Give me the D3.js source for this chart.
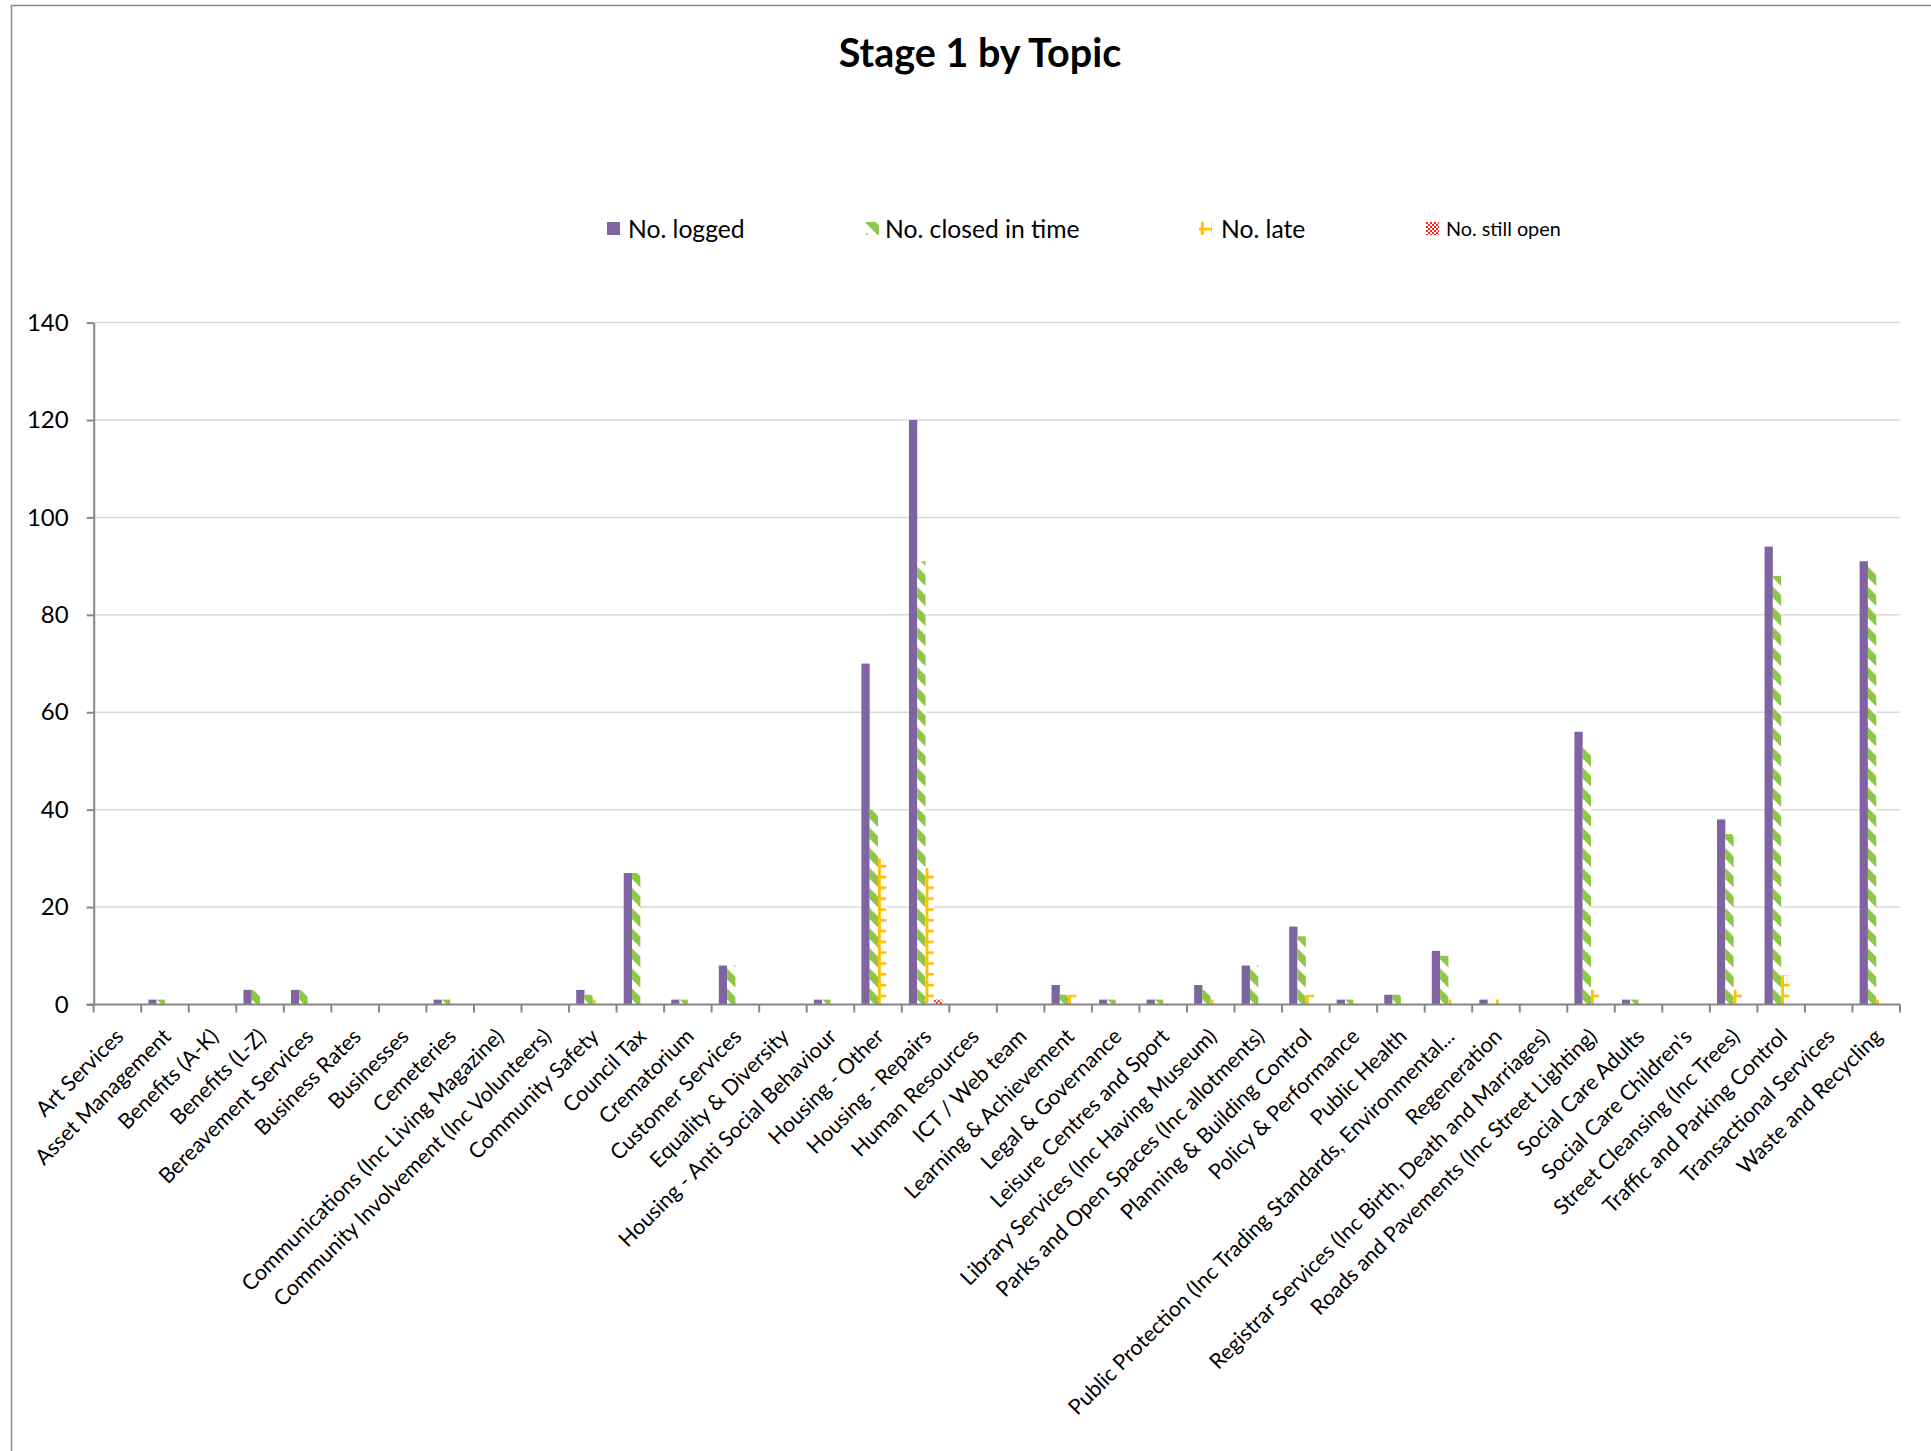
<!DOCTYPE html>
<html>
<head>
<meta charset="utf-8">
<script src="https://cdn.jsdelivr.net/npm/d3@7"></script>
<style>
  html, body { margin: 0; padding: 0; background: #ffffff; }
  svg { display: block; }
  text { font-family: Lato, "Open Sans", sans-serif; fill: #000; }
</style>
</head>
<body>
<svg id="chart" width="1931" height="1451"></svg>
<script>
// Complaint topics (Stage 1) and counts per status
const categories = [
  "Art Services", "Asset Management", "Benefits (A-K)", "Benefits (L-Z)",
  "Bereavement Services", "Business Rates", "Businesses", "Cemeteries",
  "Communications (Inc Living Magazine)", "Community Involvement (Inc Volunteers)",
  "Community Safety", "Council Tax", "Crematorium", "Customer Services",
  "Equality & Diversity", "Housing - Anti Social Behaviour", "Housing - Other",
  "Housing - Repairs", "Human Resources", "ICT / Web team", "Learning & Achievement",
  "Legal & Governance", "Leisure Centres and Sport", "Library Services (Inc Having Museum)",
  "Parks and Open Spaces (Inc allotments)", "Planning & Building Control",
  "Policy & Performance", "Public Health",
  "Public Protection (Inc Trading Standards, Environmental...",
  "Regeneration", "Registrar Services (Inc Birth, Death and Marriages)",
  "Roads and Pavements (Inc Street Lighting)", "Social Care Adults",
  "Social Care Children's", "Street Cleansing (Inc Trees)",
  "Traffic and Parking Control", "Transactional Services", "Waste and Recycling"
];
const logged       = [0, 1, 0, 3, 3, 0, 0, 1, 0, 0, 3, 27, 1, 8, 0, 1, 70, 120, 0, 0, 4, 1, 1, 4, 8, 16, 1, 2, 11, 1, 0, 56, 1, 0, 38, 94, 0, 91];
const closedInTime = [0, 1, 0, 3, 3, 0, 0, 1, 0, 0, 2, 27, 1, 8, 0, 1, 40,  91, 0, 0, 2, 1, 1, 3, 8, 14, 1, 2, 10, 0, 0, 53, 1, 0, 35, 88, 0, 90];
const late         = [0, 0, 0, 0, 0, 0, 0, 0, 0, 0, 1,  0, 0, 0, 0, 0, 30,  28, 0, 0, 2, 0, 0, 1, 0,  2, 0, 0,  1, 1, 0,  3, 0, 0,  3,  6, 0,  1];
const stillOpen    = [0, 0, 0, 0, 0, 0, 0, 0, 0, 0, 0,  0, 0, 0, 0, 0,  0,   1, 0, 0, 0, 0, 0, 0, 0,  0, 0, 0,  0, 0, 0,  0, 0, 0,  0,  0, 0,  0];

const seriesNames = ["No. logged", "No. closed in time", "No. late", "No. still open"];
const seriesValues = [logged, closedInTime, late, stillOpen];
const yTicks = [0, 20, 40, 60, 80, 100, 120, 140];
const chartTitle = "Stage 1 by Topic";

const svg = d3.select("#chart");
svg.append("rect").attr("width", 1931).attr("height", 1451).attr("fill", "#ffffff");

// ---- fill patterns ----
const defs = svg.append("defs");
const fills = ["#8064A2", "url(#pClosed)", "url(#pLate)", "url(#pOpen)"];

// wide downward diagonal, green on white
const pc = defs.append("pattern").attr("id", "pClosed")
  .attr("patternUnits", "userSpaceOnUse").attr("width", 14.2).attr("height", 14.2)
  .attr("patternTransform", "rotate(-45)");
pc.append("rect").attr("width", 14.2).attr("height", 14.2).attr("fill", "#ffffff");
pc.append("rect").attr("width", 7.8).attr("height", 14.2).attr("fill", "#8CC747");

// grid, amber on white
const pl = defs.append("pattern").attr("id", "pLate")
  .attr("patternUnits", "userSpaceOnUse").attr("width", 10.8).attr("height", 10.8)
  .attr("x", 2).attr("y", 1);
pl.append("rect").attr("width", 10.8).attr("height", 10.8).attr("fill", "#ffffff");
pl.append("rect").attr("width", 10.8).attr("height", 2.6).attr("fill", "#FFC000");
pl.append("rect").attr("width", 3).attr("height", 10.8).attr("fill", "#FFC000");

// small checkerboard, red on white
const po = defs.append("pattern").attr("id", "pOpen")
  .attr("patternUnits", "userSpaceOnUse").attr("width", 4).attr("height", 4);
po.append("rect").attr("width", 4).attr("height", 4).attr("fill", "#ffffff");
po.append("rect").attr("width", 2).attr("height", 2).attr("fill", "#FF2020");
po.append("rect").attr("x", 2).attr("y", 2).attr("width", 2).attr("height", 2).attr("fill", "#FF2020");

// ---- outer frame ----
svg.append("path")
  .attr("d", "M11.5,1451 L11.5,5.5 L1931,5.5")
  .attr("fill", "none").attr("stroke", "#8c8c8c").attr("stroke-width", 1.5);

// ---- scales ----
const plotLeft = 93.7, plotRight = 1900, plotBottom = 1004.5, plotTop = 322.6;
const x0 = d3.scaleBand().domain(categories).range([plotLeft, plotRight]).padding(0);
const x1 = d3.scaleBand().domain(d3.range(seriesNames.length))
  .range([0, x0.bandwidth()]).paddingInner(0).paddingOuter(0.86);
const y = d3.scaleLinear().domain([0, 140]).range([plotBottom, plotTop]);

// ---- gridlines ----
svg.append("g").selectAll("line").data(yTicks.filter(d => d > 0)).join("line")
  .attr("x1", plotLeft).attr("x2", plotRight)
  .attr("y1", d => y(d)).attr("y2", d => y(d))
  .attr("stroke", "#d9d9d9").attr("stroke-width", 1.5);

// ---- bars ----
const groups = svg.append("g").selectAll("g").data(categories).join("g")
  .attr("transform", d => `translate(${x0(d)},0)`);
groups.selectAll("rect")
  .data((d, i) => seriesValues.map((vals, s) => ({ s, v: vals[i] })))
  .join("rect")
  .filter(d => d.v > 0)
  .attr("x", d => x1(d.s))
  .attr("width", x1.bandwidth())
  .attr("y", d => y(d.v))
  .attr("height", d => y(0) - y(d.v))
  .attr("fill", d => fills[d.s]);

// ---- y axis ----
const yAxis = svg.append("g").attr("transform", `translate(${plotLeft},0)`)
  .call(d3.axisLeft(y).tickValues(yTicks).tickSize(7).tickPadding(18).tickSizeOuter(0));
yAxis.select(".domain").attr("stroke", "#868686").attr("stroke-width", 2);
yAxis.selectAll(".tick line").attr("stroke", "#868686").attr("stroke-width", 2);
yAxis.selectAll(".tick text").style("font-size", "24px").attr("fill", "#000");

// ---- x axis ----
const xAxisG = svg.append("g");
xAxisG.append("line")
  .attr("x1", plotLeft - 7).attr("x2", plotRight)
  .attr("y1", plotBottom).attr("y2", plotBottom)
  .attr("stroke", "#868686").attr("stroke-width", 2);
const boundaries = categories.map(c => x0(c)).concat([plotRight]);
xAxisG.selectAll("line.tk").data(boundaries).join("line").attr("class", "tk")
  .attr("x1", d => d).attr("x2", d => d)
  .attr("y1", plotBottom).attr("y2", plotBottom + 8)
  .attr("stroke", "#868686").attr("stroke-width", 2);

const xLabels = svg.append("g").attr("transform", `translate(0,${plotBottom})`)
  .call(d3.axisBottom(x0).tickSize(0).tickPadding(0));
xLabels.select(".domain").remove();
xLabels.selectAll(".tick text")
  .attr("text-anchor", "end")
  .attr("x", 0).attr("y", 0)
  .attr("dy", "0.35em")
  .attr("transform", "translate(2,28) rotate(-45)")
  .style("font-size", "21.5px")
  .attr("fill", "#000");

// ---- title ----
svg.append("text").attr("x", 980).attr("y", 67)
  .attr("text-anchor", "middle")
  .style("font-size", "39.5px").style("font-weight", "bold")
  .text(chartTitle);

// ---- legend ----
const legendItems = [
  { name: seriesNames[0], fill: fills[0], mx: 607, tx: 628, size: 24.7 },
  { name: seriesNames[1], fill: fills[1], mx: 866, tx: 885, size: 24.7 },
  { name: seriesNames[2], fill: fills[2], mx: 1199, tx: 1221, size: 24.7 },
  { name: seriesNames[3], fill: fills[3], mx: 1426, tx: 1446, size: 19.8 }
];
const legendY = 229;
const lg = svg.append("g");
lg.selectAll("rect").data(legendItems).join("rect")
  .attr("x", d => d.mx).attr("y", legendY - 7).attr("width", 13).attr("height", 13)
  .attr("fill", d => d.fill);
lg.selectAll("text").data(legendItems).join("text")
  .attr("x", d => d.tx).attr("y", legendY).attr("dy", "0.35em")
  .style("font-size", d => d.size + "px")
  .text(d => d.name);
</script>
</body>
</html>
